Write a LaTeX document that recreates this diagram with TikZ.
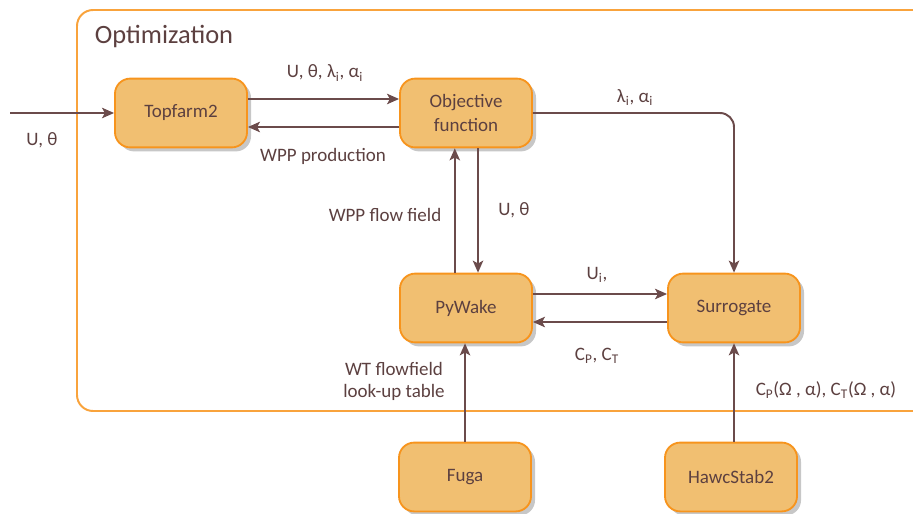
\documentclass[tikz,border=0pt]{standalone}
\usepackage{fontspec}
\setmainfont{Carlito}
\usepackage{tikz}
\usetikzlibrary{arrows.meta, positioning, calc, shadows}

\definecolor{boxfill}{HTML}{F1BF71}
\definecolor{boxedge}{HTML}{F7941D}
\definecolor{frameedge}{HTML}{F9A33C}
\definecolor{ink}{HTML}{5C4040}
\definecolor{wire}{HTML}{6B4B4B}

\begin{document}
\begin{tikzpicture}[
    >=Stealth,
    x=0.025cm, y=-0.025cm,
    blk/.style={draw=boxedge, fill=boxfill, line width=1.3pt, rounded corners=0.38cm,
      minimum width=3.3cm, minimum height=1.72cm, align=center, text=ink,
      font=\fontsize{13.5}{17}\selectfont,
      drop shadow={shadow xshift=0.1cm, shadow yshift=-0.1cm, fill=black!22, opacity=1}},
    lbl/.style={text=ink, align=center, font=\fontsize{13.5}{15.6}\selectfont, inner sep=1pt},
    flow/.style={-{Stealth[length=3mm, width=2.6mm, inset=0.7mm]}, wire, line width=1.4pt},
    frame/.style={draw=frameedge, line width=1.4pt, rounded corners=0.4cm},
  ]
    \useasboundingbox (0,0) rectangle (913,513);
    \clip (0,0) rectangle (913,513);
    % ===== Optimization frame =====
    \draw[frame] (77,10) rectangle (940,411);
    \node[text=ink, anchor=west, font=\fontsize{18.8}{20}\selectfont] (title) at (90,36) {Optimization};
    % ===== blocks =====
    \node[blk] (topfarm) at (181,113) {Topfarm2};
    \node[blk] (obj)     at (466,113) {Objective\\function};
    \node[blk] (pywake)  at (466,308) {PyWake};
    \node[blk] (sur)     at (734,308) {Surrogate};
    \node[blk] (fuga)    at (465,477) {Fuga};
    \node[blk] (hawc)    at (731,477) {HawcStab2};
    \coordinate (in) at (10,113);

    % ===== connectors =====
    \draw[flow] (in) -- (topfarm.west);
    \draw[flow] ([yshift=0.35cm]topfarm.east) -- ([yshift=0.35cm]obj.west);
    \draw[flow] ([yshift=-0.35cm]obj.west) -- ([yshift=-0.35cm]topfarm.east);
    \draw[flow, rounded corners=0.35cm] (obj.east) -| (sur.north);
    \draw[flow] ([xshift=-0.28cm]pywake.north) -- ([xshift=-0.28cm]obj.south);
    \draw[flow] ([xshift=0.3cm]obj.south) -- ([xshift=0.3cm]pywake.north);
    \draw[flow] ([yshift=0.35cm]pywake.east) -- ([yshift=0.35cm]sur.west);
    \draw[flow] ([yshift=-0.35cm]sur.west) -- ([yshift=-0.35cm]pywake.east);
    \draw[flow] (fuga.north) -- (fuga.north |- pywake.south);
    \draw[flow] (hawc.north -| sur.south) -- (sur.south);

    % ===== labels =====
    \node[lbl] (lin)   at (42,140)  {U, θ};
    \node[lbl] (lto)   at (325,73)  {U, θ, λ\textsubscript{i}, α\textsubscript{i}};
    \node[lbl] (lprod) at (323,156) {WPP production};
    \node[lbl] (llam)  at (635,98)  {λ\textsubscript{i}, α\textsubscript{i}};
    \node[lbl] (lwpp)  at (385,215) {WPP flow field};
    \node[lbl] (lut)   at (514,210) {U, θ};
    \node[lbl] (lui)   at (597,275) {U\textsubscript{i},};
    \node[lbl] (lcpt)  at (597,356) {C\textsubscript{P}, C\textsubscript{T}};
    \node[lbl] (ltab)  at (394,381) {WT flowfield\\look-up table};
    \node[lbl] (lhs2)  at (826,390) {C\textsubscript{P}(Ω , α), C\textsubscript{T}(Ω , α)};
  \end{tikzpicture}
\end{document}
